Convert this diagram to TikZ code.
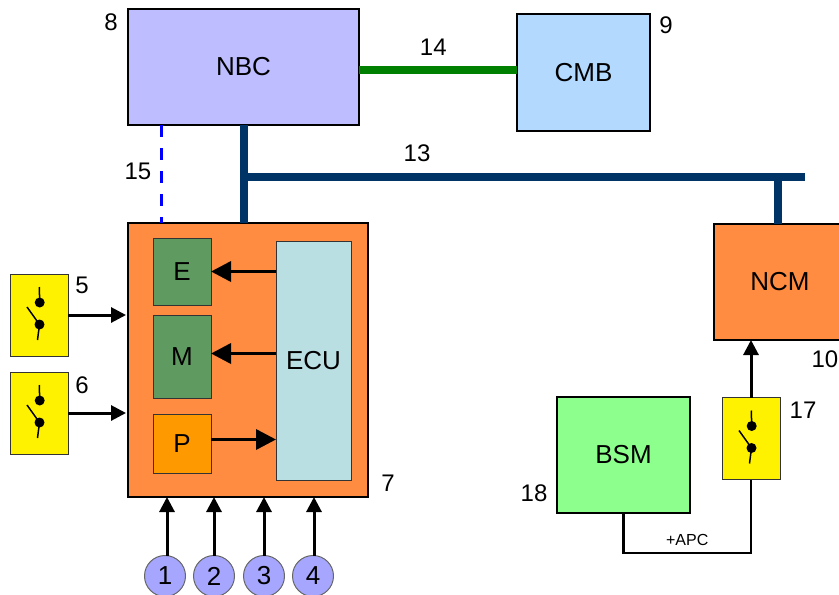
\documentclass[tikz,border=0pt]{standalone}
\usepackage{fontspec}
\setmainfont{Liberation Sans}
\usetikzlibrary{arrows.meta, positioning}
\definecolor{nbcblue}{HTML}{BDBDFF}
\definecolor{cmbblue}{HTML}{B3D9FF}
\definecolor{ecmorange}{HTML}{FF8C40}
\definecolor{valvegreen}{HTML}{5F9A60}
\definecolor{pumporange}{HTML}{FF9900}
\definecolor{ecupale}{HTML}{B9DFE3}
\definecolor{bsmgreen}{HTML}{8CFF8C}
\definecolor{sensorblue}{HTML}{A6A6FF}
\definecolor{busnavy}{HTML}{003366}
\definecolor{linkgreen}{HTML}{008000}
\tikzstyle{module}=[rectangle, draw=black, line width=2.8pt, inner sep=0pt, outer sep=0pt, font=\fontsize{26}{30}\selectfont]
\tikzstyle{inner}=[rectangle, draw=black!80, line width=1pt, inner sep=0pt, outer sep=0pt, font=\fontsize{26}{30}\selectfont]
\tikzstyle{switchbox}=[rectangle, draw=black!80, fill=yellow, line width=1pt, minimum width=58pt, minimum height=82pt, inner sep=0pt, outer sep=0pt]
\tikzstyle{sensor}=[circle, draw=black!60, fill=sensorblue, line width=1pt, minimum size=41pt, inner sep=0pt, outer sep=0pt, font=\fontsize{26}{30}\selectfont]
\tikzstyle{numlabel}=[inner sep=0pt, font=\fontsize{24}{27}\selectfont]
\tikzstyle{arrowsmall}=[line width=3pt, -{Triangle[length=15pt, width=15pt]}]
\tikzstyle{arrowbig}=[line width=3.5pt, -{Triangle[length=20pt, width=20pt]}]
\tikzstyle{busline}=[line width=8pt, busnavy]
\newcommand{\switchmark}[1]{%
  \draw[line width=1.5pt] ([shift={(0.3,-28)}]#1.center) -- ([shift={(0.7,-12.5)}]#1.center);
  \fill ([shift={(0.7,-12.5)}]#1.center) circle (5pt);
  \draw[line width=1.5pt] ([shift={(-12,-8)}]#1.center) -- ([shift={(0.5,9.5)}]#1.center) -- ([shift={(-1.5,25)}]#1.center);
  \fill ([shift={(0.5,9.5)}]#1.center) circle (5pt);}
\begin{document}
\begin{tikzpicture}[x=1pt, y=-1pt]
    \clip (0,0) rectangle (839,595);
    \node[module, fill=nbcblue, minimum width=231pt, minimum height=116pt] (nbc) at (243.5,67) {NBC};
    \node[module, fill=cmbblue, line width=2pt, minimum width=133pt, minimum height=117pt, right=158pt of nbc.north east, anchor=north west, yshift=-5pt] (cmb) {CMB};
    \node[module, fill=ecmorange, minimum width=240pt, minimum height=274pt, below=98pt of nbc.south west, anchor=north west] (ecm) {};
    \node[inner, fill=valvegreen, minimum width=58pt, minimum height=67pt] (evalve) at (182,271.5) {E};
    \node[inner, fill=valvegreen, minimum width=58pt, minimum height=83pt, below=10pt of evalve] (mvalve) {M};
    \node[inner, fill=pumporange, minimum width=58pt, minimum height=59pt, below=16pt of mvalve] (pump) {P};
    \node[inner, fill=ecupale, minimum width=75pt, minimum height=239pt] (ecu) at (313.5,360.5) {ECU};
    \node[switchbox] (swa) at (39,315) {};
    \node[switchbox, below=16pt of swa] (swb) {};
    \node[module, fill=ecmorange, minimum width=132pt, minimum height=116pt] (ncm) at (780,282) {NCM};
    \node[module, fill=bsmgreen, minimum width=133pt, minimum height=116pt] (bsm) at (623.5,455) {BSM};
    \node[switchbox] (swc) at (751,438.5) {};
    \node[sensor] (sa) at (165,576) {1};
    \node[sensor, right=8pt of sa] (sb) {2};
    \node[sensor, right=9pt of sb] (sc) {3};
    \node[sensor, right=8pt of sc] (sd) {4};

    \switchmark{swa}
    \switchmark{swb}
    \switchmark{swc}

    % bus lines
    \coordinate (busjoin) at (243.5,176.7);
    \coordinate (busdrop) at (778,176.7);
    \coordinate (busend) at (805,176.7);
    \draw[busline] (nbc.south) -- (nbc.south |- ecm.north);
    \draw[busline] (busjoin) -- node[numlabel, black, above=11pt, pos=0.309] (numb) {13} (busend);
    \draw[busline] (busdrop) -- (busdrop |- ncm.north);
    \draw[line width=8pt, linkgreen] ([yshift=-3pt]nbc.east) -- node[numlabel, black, above=11pt, pos=0.47] (numc) {14} ([yshift=-3pt]nbc.east -| cmb.west);
    \draw[line width=3pt, blue, dash pattern=on 12pt off 11pt] (161,125) -- (161,223);

    % arrows
    \draw[arrowsmall, shorten >=2pt] (swa.east) -- (swa.east -| ecm.west);
    \draw[arrowsmall, shorten >=2pt] (swb.east) -- (swb.east -| ecm.west);
    \draw[arrowbig] (ecu.west |- evalve.east) -- (evalve.east);
    \draw[arrowbig] ([yshift=3pt]ecu.west |- mvalve.east) -- ([yshift=3pt]mvalve.east);
    \draw[arrowbig] ([yshift=4pt]pump.east) -- ([yshift=4pt]pump.east -| ecu.west);
    \draw[arrowsmall] ([xshift=2pt]sa.north) -- ([xshift=2pt]sa.north |- ecm.south);
    \draw[arrowsmall] (sb.north) -- (sb.north |- ecm.south);
    \draw[arrowsmall] (sc.north) -- (sc.north |- ecm.south);
    \draw[arrowsmall] ([xshift=1pt]sd.north) -- ([xshift=1pt]sd.north |- ecm.south);
    \draw[arrowsmall] (swc.north) -- (swc.north |- ncm.south);

    \coordinate (apcleft) at (bsm.south |- 0,553);
    \coordinate (apcright) at (swc.south |- 0,553);
    \draw[line width=2.5pt] (bsm.south) -- (apcleft) -- node[above=3pt, pos=0.5, font=\fontsize{16}{18}\selectfont] (apc) {+APC} (apcright) -- (swc.south);

    % numbers
    \node[numlabel] (numd) at (111,22) {8};
    \node[numlabel] (nume) at (666,25) {9};
    \node[numlabel] (numf) at (138,171) {15};
    \node[numlabel] (numg) at (82,285) {5};
    \node[numlabel] (numh) at (82,385) {6};
    \node[numlabel] (numi) at (388,483) {7};
    \node[numlabel, anchor=east] (numj) at (838.5,359) {10};
    \node[numlabel] (numk) at (803,410) {17};
    \node[numlabel] (numl) at (534,493) {18};
\end{tikzpicture}
\end{document}
